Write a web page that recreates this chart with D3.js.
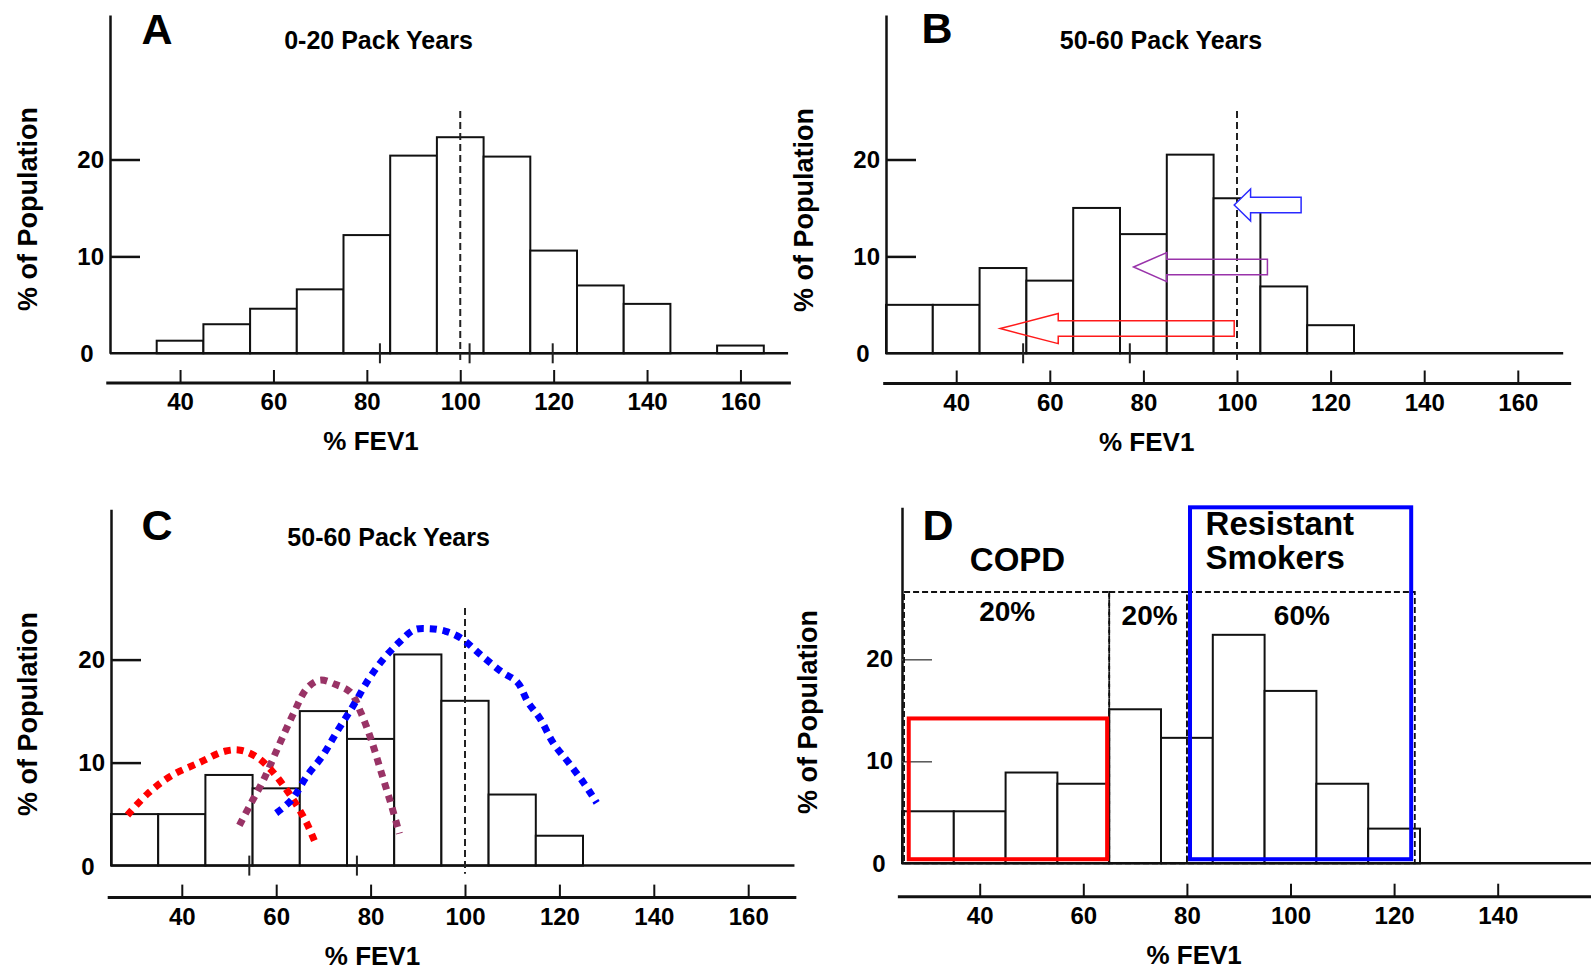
<!DOCTYPE html>
<html>
<head>
<meta charset="utf-8">
<script src="https://cdn.jsdelivr.net/npm/d3@7"></script>
<style>
  body { margin: 0; background: #fff; }
  svg text { font-family: "Liberation Sans", Arial, Helvetica, sans-serif; font-weight: bold; fill: #000; }
</style>
</head>
<body>
<script>
// histogram bins: lower edge of each 10-point % FEV1 bin, and % of population
const binsA = [35, 45, 55, 65, 75, 85, 95, 105, 115, 125, 135, 145, 155];
const pctA  = [1.3, 3.0, 4.6, 6.6, 12.2, 20.4, 22.3, 20.3, 10.6, 7.0, 5.1, 0, 0.8];
const binsBC = [25, 35, 45, 55, 65, 75, 85, 95, 105, 115];
const pctBC  = [5.0, 5.0, 8.8, 7.5, 15.0, 12.3, 20.5, 16.0, 6.9, 2.9];
const binsD = [25, 35, 45, 55, 65, 75, 85, 95, 105, 115];
const pctD  = [5.1, 5.1, 8.9, 7.8, 15.1, 12.3, 22.4, 16.9, 7.8, 3.4];

const fevTicks  = [40, 60, 80, 100, 120, 140, 160];
const fevTicksD = [40, 60, 80, 100, 120, 140];
const popTicks  = [10, 20];

// panel B arrows: tip, head base, tail (% FEV1), centre, shaft half, head half (% pop)
const arrowColor = ['#2a2aff', '#9933aa', '#ff1a1a'];
const arrowTip   = [99.4, 77.9, 49.4];
const arrowHead  = [102.9, 85.0, 61.8];
const arrowTail  = [113.7, 106.5, 99.4];
const arrowMid   = [15.3, 8.9, 2.55];
const arrowShaft = [0.8, 0.8, 0.8];
const arrowHalf  = [1.65, 1.5, 1.55];

// panel C fitted curves [% FEV1, % pop]
const curveRed = [[28.5,4.9],[32.8,7.0],[37.7,8.7],[43.7,10.0],[49.1,11.1],[52.4,11.2],[55.7,10.6],[58.9,9.3],[62.2,7.35],[64.3,5.9],[66.5,4.1],[68.2,2.3]];
const curvePurple = [[52.2,3.9],[54.6,6.0],[57.3,8.3],[60.5,11.6],[63.8,14.9],[66.5,17.2],[69.2,18.0],[72.5,17.6],[75.8,16.8],[77.9,14.9],[80.1,12.25],[82.3,9.0],[84.5,5.7],[86.1,3.1]];
const curveBlue = [[60.0,5.1],[63.3,6.4],[66.5,8.7],[69.8,10.65],[73.0,13.1],[76.3,15.5],[79.6,18.1],[82.8,20.1],[86.1,21.7],[89.3,22.9],[92.6,23.0],[95.9,22.75],[99.1,22.1],[103.5,20.4],[107.8,18.8],[111.1,17.8],[113.3,15.9],[116.0,14.2],[118.7,11.9],[122.0,9.97],[125.2,8.0],[127.9,6.1]];

// panel D groups
const groupEdges = [[25.4, 65], [65, 80], [80, 124]];
const groupTop = 26.6;
const groupLabels = ['20%', '20%', '60%'];
const groupLabelX = [45.3, 72.8, 102.2];
const groupLabelY = [23.8, 23.4, 23.4];
const copdBox = {x: [26.3, 64.6], y: [0.4, 14.2]};
const resistantBox = {x: [80.6, 123.3], y: [0.4, 34.9]};

// odd stray ticks on the zero line
const strayA = [82.8, 102.0, 119.8];
const strayBC = [54.3, 77.1];

const svg = d3.select('body').append('svg')
              .attr('width', 1591)
              .attr('height', 974);

function panel(cfg) {
    const g = svg.append('g');
    const x = d3.scaleLinear()
                .domain([25, cfg.xMax])
                .range([cfg.x0, cfg.x0 + (cfg.xMax - 25) * cfg.kx]);
    const y = d3.scaleLinear()
                .domain([0, cfg.yMax])
                .range([cfg.base, cfg.base - cfg.yMax * cfg.ky]);

    // bars
    g.selectAll('rect.bar')
     .data(d3.zip(cfg.bins, cfg.pct).filter(d => d[1] > 0))
     .join('rect')
     .attr('x', d => x(d[0]))
     .attr('y', d => y(d[1]))
     .attr('width', d => x(d[0] + 10) - x(d[0]))
     .attr('height', d => y(0) - y(d[1]))
     .attr('fill', '#fff')
     .attr('stroke', '#111')
     .attr('stroke-width', 2);

    // y axis
    const yAxis = g.append('g')
                   .attr('transform', 'translate(' + x(25) + ',0)')
                   .call(d3.axisLeft(y).tickValues(popTicks).tickSizeInner(-30).tickSizeOuter(0).tickPadding(cfg.yPad))
                   .attr('font-size', 24);
    yAxis.select('.domain').attr('stroke', '#111').attr('stroke-width', 2.5);
    yAxis.selectAll('.tick line').attr('stroke', cfg.yTickColor).attr('stroke-width', cfg.yTickWidth);
    g.append('text')
     .attr('x', x(25) - 23).attr('y', y(0)).attr('dy', '0.38em')
     .attr('text-anchor', 'middle').attr('font-size', 24)
     .text('0');

    // zero line
    g.append('line')
     .attr('x1', x(25)).attr('x2', x(cfg.baseEnd))
     .attr('y1', y(0)).attr('y2', y(0))
     .attr('stroke', '#111').attr('stroke-width', 2.5);

    g.selectAll('line.stray')
     .data(cfg.stray)
     .join('line')
     .attr('x1', d => x(d)).attr('x2', d => x(d))
     .attr('y1', y(0) - 10).attr('y2', y(0) + 10)
     .attr('stroke', '#222').attr('stroke-width', 2);

    // lower % FEV1 axis
    const xAxis = g.append('g')
                   .attr('transform', 'translate(0,' + cfg.axisY + ')')
                   .call(d3.axisBottom(x).tickValues(cfg.ticks).tickSizeInner(-13).tickSizeOuter(0).tickPadding(10))
                   .attr('font-size', 24);
    xAxis.select('.domain').remove();
    xAxis.selectAll('.tick line').attr('stroke', '#111').attr('stroke-width', 2);
    g.append('line')
     .attr('x1', x(cfg.low[0])).attr('x2', x(cfg.low[1]))
     .attr('y1', cfg.axisY).attr('y2', cfg.axisY)
     .attr('stroke', '#111').attr('stroke-width', 3);

    g.append('text')
     .attr('x', x(cfg.fevX)).attr('y', cfg.axisY + 67)
     .attr('text-anchor', 'middle').attr('font-size', 26)
     .text('% FEV1');

    g.append('text')
     .attr('transform', 'translate(' + cfg.popX + ',' + cfg.popY + ') rotate(-90)')
     .attr('text-anchor', 'middle').attr('font-size', 27)
     .text('% of Population');

    g.append('text')
     .attr('x', cfg.letter[0]).attr('y', cfg.letter[1])
     .attr('text-anchor', 'middle').attr('font-size', 43)
     .text(cfg.name);

    if (cfg.title) {
        g.append('text')
         .attr('x', cfg.title[0]).attr('y', cfg.title[1])
         .attr('text-anchor', 'middle').attr('font-size', 25)
         .text(cfg.title[2]);
    }

    if (cfg.dashed) {
        g.append('line')
         .attr('x1', x(100)).attr('x2', x(100))
         .attr('y1', y(25)).attr('y2', y(-0.8))
         .attr('stroke', '#222').attr('stroke-width', 2)
         .attr('stroke-dasharray', '7,4');
    }
    return {g: g, x: x, y: y};
}

// A
panel({name: 'A', bins: binsA, pct: pctA, ticks: fevTicks, stray: strayA,
       x0: 110, kx: 4.67, xMax: 171, base: 353.3, ky: 9.69, yMax: 34.9,
       axisY: 383, low: [24.2, 170.8], baseEnd: 170.2, fevX: 80.9,
       popX: 37, popY: 209, letter: [157, 43.5], yPad: 6, yTickColor: '#111', yTickWidth: 2.5,
       title: [378.5, 49, '0-20 Pack Years'], dashed: true});

// B
const pB = panel({name: 'B', bins: binsBC, pct: pctBC, ticks: fevTicks, stray: strayBC,
       x0: 886, kx: 4.68, xMax: 171, base: 353.3, ky: 9.69, yMax: 34.9,
       axisY: 383.5, low: [24.4, 171.4], baseEnd: 169.7, fevX: 80.7,
       popX: 813, popY: 210, letter: [937, 43], yPad: 6, yTickColor: '#111', yTickWidth: 2.5,
       title: [1161, 49, '50-60 Pack Years'], dashed: true});

const arrows = d3.range(arrowTip.length).map(i => ({
    color: arrowColor[i], tip: arrowTip[i], head: arrowHead[i], tail: arrowTail[i],
    mid: arrowMid[i], shaft: arrowShaft[i], half: arrowHalf[i], filled: i === 0
}));
pB.g.selectAll('path.arrow')
    .data(arrows)
    .join('path')
    .attr('d', a => {
        const x = pB.x, y = pB.y;
        return 'M' + x(a.tip) + ',' + y(a.mid) +
               'L' + x(a.head) + ',' + y(a.mid + a.half) +
               'L' + x(a.head) + ',' + y(a.mid + a.shaft) +
               'L' + x(a.tail) + ',' + y(a.mid + a.shaft) +
               'L' + x(a.tail) + ',' + y(a.mid - a.shaft) +
               'L' + x(a.head) + ',' + y(a.mid - a.shaft) +
               'L' + x(a.head) + ',' + y(a.mid - a.half) + 'Z';
    })
    .attr('fill', a => a.filled ? '#fff' : 'none')
    .attr('stroke', a => a.color)
    .attr('stroke-width', 1.5);

// C
const pC = panel({name: 'C', bins: binsBC, pct: pctBC, ticks: fevTicks, stray: strayBC,
       x0: 111, kx: 4.72, xMax: 171, base: 865.6, ky: 10.3, yMax: 34.6,
       axisY: 897.6, low: [24.3, 170.2], baseEnd: 169.8, fevX: 80.4,
       popX: 37, popY: 714, letter: [157, 540], yPad: 6, yTickColor: '#111', yTickWidth: 2.5,
       title: [388.6, 545.5, '50-60 Pack Years'], dashed: true});

const curveLine = d3.line()
                    .x(d => pC.x(d[0]))
                    .y(d => pC.y(d[1]))
                    .curve(d3.curveCatmullRom);
[[curvePurple, '#993366'], [curveRed, '#ff0000'], [curveBlue, '#0000ff']].forEach(c => {
    pC.g.append('path')
        .attr('d', curveLine(c[0]))
        .attr('fill', 'none')
        .attr('stroke', c[1])
        .attr('stroke-width', 7)
        .attr('stroke-dasharray', '7,6');
});

// D
const pD = panel({name: 'D', bins: binsD, pct: pctD, ticks: fevTicksD, stray: [],
       x0: 902, kx: 5.18, xMax: 160, base: 863.3, ky: 10.2, yMax: 34.9,
       axisY: 896.7, low: [24.2, 160], baseEnd: 160, fevX: 81.4,
       popX: 817, popY: 712, letter: [938, 540], yPad: 9, yTickColor: '#555', yTickWidth: 1.5,
       title: null, dashed: false});

pD.g.selectAll('rect.group')
    .data(groupEdges)
    .join('rect')
    .attr('x', d => pD.x(d[0]))
    .attr('width', d => pD.x(d[1]) - pD.x(d[0]))
    .attr('y', pD.y(groupTop))
    .attr('height', pD.y(0) - pD.y(groupTop))
    .attr('fill', 'none')
    .attr('stroke', '#111')
    .attr('stroke-width', 1.8)
    .attr('stroke-dasharray', '6,3');

pD.g.selectAll('text.group')
    .data(groupLabels)
    .join('text')
    .attr('x', (d, i) => pD.x(groupLabelX[i]))
    .attr('y', (d, i) => pD.y(groupLabelY[i]))
    .attr('text-anchor', 'middle')
    .attr('font-size', 28)
    .text(d => d);

[[copdBox, '#ff0000'], [resistantBox, '#0000ff']].forEach(b => {
    pD.g.append('rect')
        .attr('x', pD.x(b[0].x[0]))
        .attr('width', pD.x(b[0].x[1]) - pD.x(b[0].x[0]))
        .attr('y', pD.y(b[0].y[1]))
        .attr('height', pD.y(b[0].y[0]) - pD.y(b[0].y[1]))
        .attr('fill', 'none')
        .attr('stroke', b[1])
        .attr('stroke-width', 4);
});

pD.g.append('text')
    .attr('x', pD.x(47.3)).attr('y', pD.y(28.7))
    .attr('text-anchor', 'middle').attr('font-size', 33)
    .text('COPD');
pD.g.append('text')
    .attr('x', pD.x(83.6)).attr('y', pD.y(32.2))
    .attr('font-size', 33)
    .text('Resistant');
pD.g.append('text')
    .attr('x', pD.x(83.6)).attr('y', pD.y(28.9))
    .attr('font-size', 33)
    .text('Smokers');
</script>
</body>
</html>
